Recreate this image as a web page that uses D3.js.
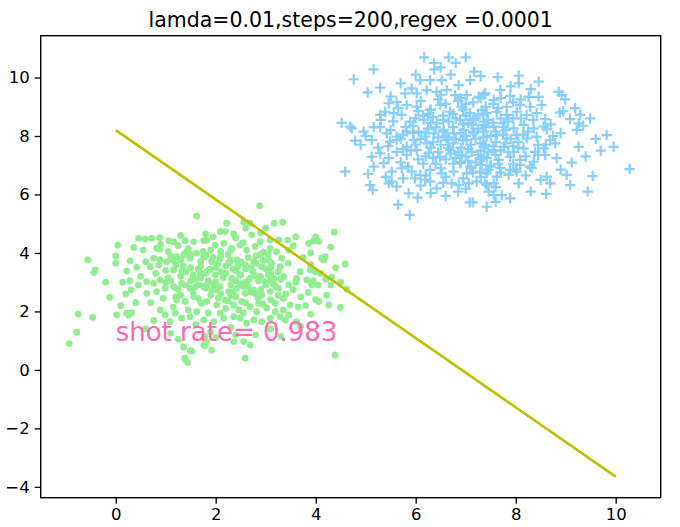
<!DOCTYPE html>
<html><head><meta charset="utf-8">
<script src="https://cdn.jsdelivr.net/npm/d3@7"></script>
<style>body{margin:0;background:#fff}svg{display:block}text{font-family:"DejaVu Sans",sans-serif}</style>
</head><body><svg id="c" width="680" height="527"></svg>
<script>
const titleText = "lamda=0.01,steps=200,regex =0.0001";
const annotText = "shot rate= 0.983";
const annotPos = [0, 1.0];
const xTicks = [0, 2, 4, 6, 8, 10];
const yTicks = [-4, -2, 0, 2, 4, 6, 8, 10];
const xDomain = [-1.5, 10.9];
const yDomain = [-4.37, 11.43];
const lineX = [0, 10];
const lineY = [8.2, -3.65];

const classA = [
[1.62,5.26],[0.04,4.27],[-0.56,3.76],[-0.44,3.33],[-0.41,3.42],[0.0,3.9],[0.0,3.65],[0.36,4.19],[0.46,4.5],[0.59,4.48],[0.72,4.5],[0.88,4.52],[0.29,3.73],[0.22,3.38],[0.42,3.51],[0.14,3.0],[0.28,3.05],[0.31,2.74],[0.2,2.6],[-0.12,2.48],[-0.75,1.91],[-0.46,1.8],[0.02,1.88],[0.26,1.88],[0.32,1.96],[-0.78,1.29],[-0.93,0.9],[1.36,0.79],[1.52,0.64],[1.38,0.4],[1.44,0.25],
[1.06,4.42],[1.16,4.38],[1.39,4.42],[1.56,4.38],[1.76,4.42],[0.82,4.16],[0.88,4.13],[0.76,3.82],[0.89,3.76],[1.02,3.7],[0.69,3.53],[0.86,3.59],
[1.22,3.87],[1.36,3.93],[1.49,3.82],[1.62,3.99],[1.79,3.87],[1.16,3.42],[1.32,3.36],[1.49,3.48],[1.69,3.31],[1.86,3.42],
[0.62,3.02],[0.76,2.96],[0.89,3.08],[0.62,2.62],[0.82,2.68],[0.99,2.79],[1.16,2.85],[1.32,2.96],[1.49,2.79],[1.66,2.91],[1.82,2.85],
[1.22,2.39],[1.39,2.34],[1.56,2.51],[1.72,2.28],[0.89,2.05],[0.99,1.88],[1.19,1.94],[1.32,1.77],[1.49,1.82],[1.62,1.99],[1.76,1.71],
[0.76,1.69],[1.09,1.65],[1.79,1.14],[1.82,0.97],
[2.88,5.61],[2.56,5.05],[2.69,5.02],[3.17,5.02],[3.34,5.05],[2.22,5.02],[2.09,4.73],[2.19,4.73],[2.36,4.65],
[2.72,4.62],[2.89,4.39],[3.09,4.44],[3.26,4.44],[3.44,4.44],[4.37,4.71],[3.86,4.33],[3.96,4.42],[4.06,4.39],
[4.16,3.76],[4.12,3.82],[4.19,3.87],[4.59,3.62],[3.89,3.42],[3.99,3.36],[4.32,3.17],[4.62,2.76],[3.82,3.08],[3.92,2.91],
[4.22,2.56],[4.06,2.34],[4.26,2.22],[4.49,2.14],[4.39,0.51],[2.59,0.4],[1.92,0.68],[1.76,0.85],[2.69,0.85],[2.56,0.97],[2.36,0.97],
[3.49,2.22],[3.46,1.88],[3.39,1.71],[3.29,1.82],[3.62,1.65],
[3.09,1.77],[2.92,1.65],[2.76,1.71],[2.62,1.6],[2.49,1.77],[2.36,1.82],[2.16,1.77],[1.96,1.65],
[3.46,2.91],[3.62,3.13],[3.69,3.36],[3.36,3.19],[3.29,3.53],[3.12,3.65],[3.32,3.82],[3.46,4.1],[3.22,4.04],[3.09,4.16],
[1.82,4.44],[1.99,4.27],[2.16,4.33],[2.32,4.16],[2.49,4.27],[2.62,4.1],[2.79,4.22],[2.96,4.04],
[1.76,3.87],[1.92,3.7],[2.09,3.82],[2.26,3.65],[2.42,3.76],[2.59,3.59],[2.76,3.7],[2.92,3.53],[3.06,3.76],
[1.82,3.36],[1.99,3.25],[2.16,3.31],[2.32,3.13],[2.49,3.25],[2.66,3.08],[2.82,3.19],[2.99,3.02],[3.16,3.13],
[1.76,2.85],[1.92,2.74],[2.09,2.85],[2.26,2.68],[2.42,2.79],[2.59,2.62],[2.76,2.74],[2.92,2.56],[3.09,2.68],[3.26,2.79],
[1.82,2.34],[2.02,2.22],[2.19,2.39],[2.36,2.22],[2.52,2.34],[2.69,2.16],[2.86,2.28],[3.02,2.11],[3.19,2.28],
[2.09,1.94],[2.46,2.05],[2.82,1.99],[3.19,1.99],
[1.36,0.78],[1.49,0.66],[1.39,0.37],[1.79,0.83],[0.22,1.94],
[2.0,3.5],[2.2,3.3],[2.4,3.4],[2.6,3.0],[2.3,2.9],[2.0,3.0],[1.8,3.3],[1.6,3.1],[1.5,3.5],[1.7,3.7],[2.1,3.9],[2.5,3.7],[2.7,3.5],[2.9,3.2],[3.0,2.9],[2.8,2.6],[2.4,2.5],[2.1,2.6],[1.8,2.8],[1.4,2.9],[1.3,3.2],[1.2,3.6],[1.4,4.0],[1.9,4.1],[2.3,4.1],[2.8,3.9],[3.1,3.5],[3.3,3.1],[3.4,2.6],[3.1,2.4],[2.6,2.3],[2.2,2.1],[1.7,2.3],[1.2,2.5],[1.0,3.0],[1.0,3.4],[1.1,3.9],[0.8,3.3],[0.6,3.7],[3.6,3.0],[3.7,2.5],[3.9,3.6],[4.1,3.3],[4.3,2.9],[4.0,2.4],
[1.05,3.15],[1.15,3.75],[1.25,2.75],[1.35,3.55],[1.45,4.15],[1.55,2.65],[1.65,3.45],[1.75,4.05],[1.85,3.05],[1.95,3.85],[2.05,2.45],[2.15,3.15],[2.25,3.95],[2.35,2.65],[2.45,3.55],[2.55,4.35],[2.65,2.85],[2.75,3.35],[2.85,2.45],[2.95,3.75],[3.05,3.25],[3.15,2.95],[3.25,3.35],[3.35,2.45],[3.45,3.65],[3.55,2.75],
[0.95,2.45],[1.05,4.05],[1.25,4.25],[1.55,3.25],[1.65,2.45],[1.95,2.95],[2.05,3.65],[2.25,2.35],[2.35,3.45],[2.55,2.85],[2.65,3.85],[2.85,3.05],[3.05,3.95],[3.25,2.55],
[1.15,2.15],[1.45,2.05],[1.85,1.95],[2.55,1.95],[2.95,2.25],[3.35,2.05],[0.7,2.3],[0.5,3.2],[0.45,2.9],[0.55,4.1],[3.75,3.85],[3.85,2.65],[3.95,3.05],[3.55,4.25],[3.65,2.15],[3.8,2.2],[4.05,2.9],[4.2,3.1],
[0.9,4.3],[1.3,4.6],[1.8,4.65],[2.4,4.5],[2.9,4.7],[3.6,4.55],[3.1,1.4],[2.3,1.45],[1.6,1.55],[1.1,1.25],[2.8,1.2],[3.9,1.9],[3.7,1.5],[0.4,2.3],[0.1,2.2],[-0.2,3.0],[0.6,1.4],[1.9,1.3],[2.0,1.1],[2.4,1.2],[3.3,1.15],[4.4,3.5],[4.5,3.0],[4.3,4.2],[3.9,4.0],[4.0,4.55],[2.6,4.85],[3.0,4.85],[1.95,4.55],[1.25,1.05],
[1.1,3.05],[1.3,3.75],[1.5,3.05],[1.7,3.55],[1.9,2.55],[2.1,3.35],[2.3,3.75],[2.5,2.95],[2.7,3.15],[2.9,2.75],[3.1,3.05],[1.2,2.8],[1.4,3.35],[1.6,2.85],[1.8,3.95],[2.0,2.75],[2.2,3.55],[2.4,3.05],[2.6,3.45],[2.8,3.65],[3.0,3.45],[3.2,2.85],[1.3,2.55],[1.5,3.95],[1.7,3.15],[1.9,3.45],[2.1,4.05],[2.3,2.55],[2.5,3.25],[2.7,2.65],[2.9,3.95],[3.1,3.3]
];

const classB = [
[6.17,10.69],[6.66,10.69],[7.0,10.69],[6.37,10.49],[6.37,10.28],[5.16,10.28],[4.76,9.94],[5.29,9.65],[5.04,9.49],[6.7,10.1],[7.17,10.2],[7.09,9.91],
[6.09,9.91],[6.29,9.91],[6.52,9.91],[6.86,9.74],
[5.92,9.63],[5.79,9.46],[6.02,9.46],[6.22,9.57],[6.42,9.51],[6.62,9.57],[6.79,9.4],[7.02,9.4],[7.26,9.34],[7.39,9.46],
[5.46,9.12],[5.62,9.17],[5.82,9.06],[5.39,8.83],[5.29,8.72],[5.56,8.78],[5.72,8.72],
[4.52,8.45],[4.69,8.32],[4.72,8.26],[4.96,8.15],[5.16,8.3],[5.29,8.3],[5.12,7.86],[4.79,7.84],
[5.42,8.09],[5.49,7.81],[5.62,7.98],[5.82,8.15],[6.06,8.15],[5.96,7.86],[6.19,7.98],[6.36,8.09],[6.56,8.21],[6.76,8.09],[6.96,8.21],[7.16,8.09],[7.36,8.15],
[6.02,9.0],[6.29,8.89],[6.49,9.06],[6.69,8.83],[6.92,9.0],[7.09,8.78],[7.32,8.89],
[5.89,8.49],[6.16,8.55],[6.42,8.43],[6.66,8.49],[6.89,8.55],[7.12,8.38],[7.36,8.49],
[5.12,7.29],[5.29,7.41],[5.46,7.24],[5.62,7.46],[5.82,7.35],[6.02,7.52],[6.26,7.41],[6.49,7.29],[6.69,7.52],[6.92,7.35],[7.12,7.46],[7.36,7.29],
[5.16,6.95],[5.36,7.07],[4.59,6.78],[5.09,6.32],[5.14,6.15],[5.46,6.38],[5.62,6.27],[5.52,6.44],
[5.52,6.78],[5.72,6.89],[5.92,6.78],[6.09,6.67],[6.29,6.84],[5.99,6.55],[6.19,6.5],[6.29,6.44],[6.42,6.21],[6.52,6.72],
[6.72,6.38],[6.86,6.32],[7.06,6.38],[7.22,6.44],[7.42,6.32],[5.86,6.04],[6.04,5.89],[5.88,5.3],[7.08,5.73],[7.14,5.73],[7.42,5.58],
[6.89,7.07],[7.09,6.95],[7.32,7.01],[6.76,6.78],[7.02,6.72],[7.29,6.78],
[5.62,7.86],[5.82,7.63],[6.22,7.75],[6.62,7.86],[7.02,7.86],[7.29,7.75],
[7.64,10.01],[8.06,10.06],[8.06,9.8],[8.46,9.86],[7.69,9.57],[7.36,9.4],[7.56,9.23],[7.89,9.37],[8.26,9.34],[8.46,9.34],
[8.86,9.51],[8.92,9.4],[8.99,9.25],[8.52,9.06],[8.29,9.0],[8.09,9.06],[7.82,9.0],[8.88,8.8],
[9.19,8.95],[9.29,8.72],[9.09,8.58],[9.49,8.6],[9.22,8.21],[9.26,8.43],[8.59,8.58],[8.62,8.23],[9.82,8.03],[9.96,7.63],[10.28,6.87],[9.26,7.63],
[8.69,7.86],[8.79,7.75],[8.56,7.58],[8.59,7.35],[8.82,7.24],[8.36,7.12],[8.32,6.9],[9.12,7.09],[9.02,6.67],[9.09,6.32],[9.54,6.63],[9.44,6.1],
[8.62,6.61],[8.69,6.38],[8.61,6.02],[8.06,6.38],[7.89,5.87],[7.72,5.98],[7.56,5.98],[7.46,6.1],[7.56,6.38],[7.39,6.38],
[8.29,6.95],[8.09,7.01],[7.89,6.84],[7.69,6.9],[7.49,6.95],
[7.42,8.78],[7.62,8.83],[7.82,8.72],[8.02,8.83],[8.22,8.72],[8.42,8.78],
[7.36,8.38],[7.56,8.32],[7.76,8.43],[7.96,8.26],[8.16,8.38],[8.36,8.26],[8.56,8.32],
[7.42,7.98],[7.62,8.03],[7.82,7.92],[8.02,8.03],[8.22,7.92],[8.42,7.98],
[7.36,7.63],[7.56,7.52],[7.76,7.63],[7.96,7.46],[8.16,7.58],[8.39,7.46],
[7.42,7.24],[7.66,7.18],[7.89,7.29],[8.09,7.18],[7.42,6.72],[7.62,6.61],[7.86,6.67],[8.02,6.78],
[6.6,8.0],[6.8,7.9],[7.0,8.0],[7.2,7.9],[6.9,7.6],[7.1,7.7],[6.7,7.4],[7.0,7.3],[7.3,7.5],[6.5,7.7],[6.3,7.6],[6.1,7.9],[6.4,8.3],[6.8,8.6],[7.0,8.7],[7.2,8.6],[7.4,8.3],[7.5,8.0],[7.6,7.8],[7.3,7.2],[6.9,7.1],[6.6,7.2],[6.2,7.3],[5.9,7.5],[5.7,7.9],[5.8,8.3],[6.0,8.6],[6.3,8.9],[6.6,9.1],[7.0,9.1],[7.4,9.0],[7.7,8.6],[7.8,8.2],[7.9,7.9],[7.7,7.5],[7.5,7.0],[7.1,6.9],[6.5,6.9],
[6.1,9.2],[6.45,9.25],[6.85,9.2],[7.15,9.15],[7.55,9.1],[7.95,9.15],
[5.65,8.95],[6.15,8.7],[6.55,8.7],[6.95,8.9],[7.25,8.7],[7.65,8.95],[8.1,8.6],[8.35,8.55],
[5.55,8.5],[5.95,8.35],[6.3,8.45],[6.75,8.3],[7.05,8.45],[7.45,8.55],[7.85,8.5],[8.25,8.15],[8.7,8.4],[8.9,8.1],
[5.5,8.2],[5.75,8.05],[6.2,8.1],[6.45,7.95],[6.9,8.1],[7.25,8.25],[7.6,8.15],[8.05,7.8],[8.45,7.7],[8.75,8.0],
[5.45,7.65],[5.75,7.55],[6.0,7.7],[6.35,7.8],[6.65,7.6],[7.05,7.55],[7.4,7.7],[7.8,7.75],[8.2,7.3],[8.6,7.7],
[5.7,7.1],[6.05,7.2],[6.4,7.05],[6.8,7.25],[7.2,7.1],[7.6,7.35],[7.95,7.05],[8.45,7.35],[8.0,6.85],
[5.85,6.95],[6.2,6.65],[6.6,6.6],[6.95,6.55],[7.3,6.6],[7.7,6.75],[8.2,6.65],[8.5,6.5],
[6.1,6.3],[6.55,6.4],[7.0,6.2],[7.6,6.25],[8.3,6.1],[6.85,6.1],[6.3,6.05],[5.75,6.55],
[5.3,8.55],[5.0,8.0],[4.9,7.7],[5.25,7.6],[5.05,6.7],[5.4,6.6],[8.95,8.85],[9.35,8.35],[9.6,7.9],[9.4,7.3],[8.9,6.85],[9.7,7.5],
[6.5,10.35],[6.8,10.5],[7.3,10.05],[7.9,9.7],[8.3,9.6],[5.7,9.8],[5.5,9.35],[6.0,10.1],[7.6,5.75],[6.6,5.95],[5.65,5.65],
[6.35,8.65],[6.55,8.55],[6.75,8.75],[6.95,8.4],[7.15,8.55],[7.35,8.75],[7.55,8.45],[7.75,8.3],[7.95,8.6],
[6.25,8.25],[6.55,8.15],[6.75,7.75],[6.95,7.85],[7.15,8.15],[7.35,7.95],[7.55,7.65],[7.75,8.05],[7.95,7.65],[8.15,8.05],
[6.45,7.45],[6.65,7.95],[6.85,7.45],[7.05,7.15],[7.25,7.35],[7.45,7.45],[7.65,7.05],[7.85,7.45],[8.05,7.6],
[6.15,7.05],[6.35,7.25],[6.75,7.05],[7.15,6.75],[7.45,6.85],[6.25,8.75],[6.5,9.4],[6.9,9.3],[7.3,9.3],[7.7,9.3],[8.1,9.25],[6.05,8.85],[5.95,8.1]
];

const W = 680, H = 527;
const plot = {left: 40.7, right: 660.7, top: 35.7, bottom: 497.7};
const svg = d3.select("#c");
const x = d3.scaleLinear().domain(xDomain).range([plot.left, plot.right]);
const y = d3.scaleLinear().domain(yDomain).range([plot.bottom, plot.top]);

svg.append("rect").attr("width", W).attr("height", H).attr("fill", "#fff");

svg.append("clipPath").attr("id", "pc").append("rect")
  .attr("x", plot.left).attr("y", plot.top)
  .attr("width", plot.right - plot.left).attr("height", plot.bottom - plot.top);

const g = svg.append("g").attr("clip-path", "url(#pc)");

g.selectAll("circle.a").data(classA).join("circle")
  .attr("class", "a")
  .attr("cx", d => x(d[0])).attr("cy", d => y(d[1]))
  .attr("r", 3.4).attr("fill", "#90ee90");

const ps = 5.2;
g.selectAll("path.b").data(classB).join("path")
  .attr("class", "b")
  .attr("d", d => {
    const cx = x(d[0]), cy = y(d[1]);
    return `M${cx - ps},${cy}H${cx + ps}M${cx},${cy - ps}V${cy + ps}`;
  })
  .attr("stroke", "#87cefa").attr("stroke-width", 2.2).attr("fill", "none");

const lineData = lineX.map((v, i) => [v, lineY[i]]);
g.append("path").datum(lineData)
  .attr("d", d3.line().x(d => x(d[0])).y(d => y(d[1])))
  .attr("stroke", "#bfbf00").attr("stroke-width", 2.6).attr("fill", "none");

svg.append("text").attr("x", x(annotPos[0])).attr("y", y(annotPos[1]))
  .attr("font-size", 26).attr("fill", "#ff69b4").text(annotText);

const fs = 16.5;
const xa = svg.append("g").attr("transform", `translate(0,${plot.bottom})`)
  .call(d3.axisBottom(x).tickValues(xTicks).tickSize(6).tickSizeOuter(0).tickPadding(5));
const ya = svg.append("g").attr("transform", `translate(${plot.left},0)`)
  .call(d3.axisLeft(y).tickValues(yTicks).tickSize(6).tickSizeOuter(0).tickPadding(5));
[xa, ya].forEach(a => {
  a.select(".domain").remove();
  a.selectAll("line").attr("stroke", "#000").attr("stroke-width", 1.3);
  a.selectAll("text").attr("font-size", fs).attr("fill", "#000").style("font-family", "DejaVu Sans");
});

svg.append("rect").attr("x", plot.left).attr("y", plot.top)
  .attr("width", plot.right - plot.left).attr("height", plot.bottom - plot.top)
  .attr("fill", "none").attr("stroke", "#000").attr("stroke-width", 1.4);

svg.append("text").attr("x", (plot.left + plot.right) / 2).attr("y", 26.5)
  .attr("text-anchor", "middle").attr("font-size", 20.5).attr("fill", "#000").text(titleText);
</script></body></html>
